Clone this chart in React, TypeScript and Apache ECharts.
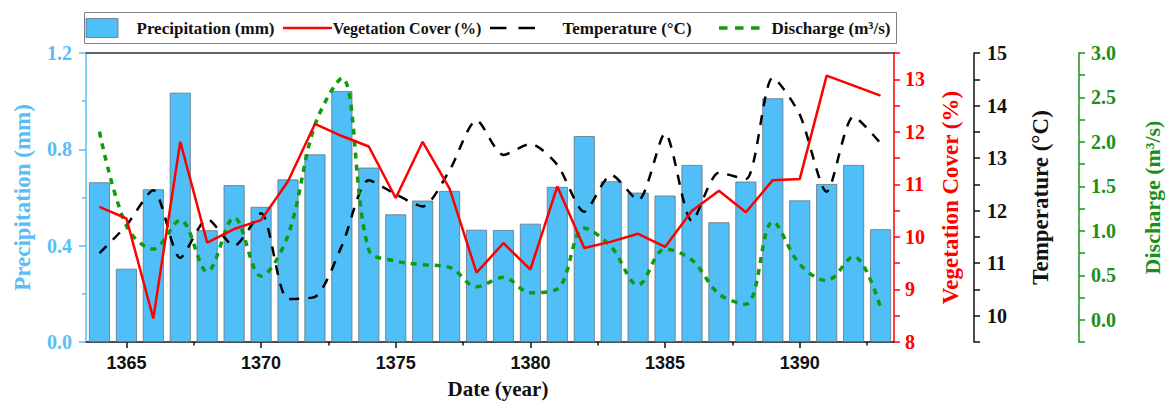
import React, { useEffect, useRef } from "react";
import * as echarts from "echarts";

const years = [1364, 1365, 1366, 1367, 1368, 1369, 1370, 1371, 1372, 1373, 1374, 1375, 1376, 1377, 1378, 1379, 1380, 1381, 1382, 1383, 1384, 1385, 1386, 1387, 1388, 1389, 1390, 1391, 1392, 1393];
const precipitation = [0.663, 0.304, 0.634, 1.035, 0.464, 0.651, 0.561, 0.675, 0.779, 1.042, 0.724, 0.53, 0.587, 0.627, 0.466, 0.465, 0.491, 0.644, 0.855, 0.667, 0.62, 0.608, 0.735, 0.497, 0.666, 1.012, 0.588, 0.656, 0.735, 0.468];
const vegetation = [10.57, 10.35, 8.45, 11.81, 9.89, 10.15, 10.32, 11.06, 12.15, 11.92, 11.72, 10.74, 11.81, 10.92, 9.32, 9.88, 9.38, 10.96, 9.79, 9.91, 10.06, 9.81, 10.5, 10.88, 10.47, 11.08, 11.1, 13.07, 12.88, 12.69];
const temperature = [11.19, 11.72, 12.39, 11.1, 11.84, 11.33, 11.95, 10.32, 10.36, 11.33, 12.58, 12.31, 12.08, 12.77, 13.72, 13.06, 13.27, 12.87, 11.98, 12.68, 12.2, 13.47, 11.8, 12.72, 12.6, 14.53, 13.83, 12.36, 13.79, 13.28];
const discharge = [2.115, 1.056, 0.795, 1.122, 0.541, 1.15, 0.49, 0.95, 2.19, 2.716, 0.785, 0.66, 0.62, 0.59, 0.372, 0.477, 0.305, 0.345, 1.03, 0.82, 0.39, 0.795, 0.67, 0.29, 0.175, 1.103, 0.625, 0.44, 0.713, 0.138];
const yearLabels = [1365, 1370, 1375, 1380, 1385, 1390];
const yearMinorTicks = [1367.5, 1372.5, 1377.5, 1382.5, 1387.5, 1392.5];

const SERIF = "'Liberation Serif', 'Times New Roman', serif";
const SANS = "'Liberation Sans', Arial, sans-serif";
const BLUE_AXIS = "#58BEF5";
const BAR_BLUE = "#50BFF8";
const BAR_EDGE = "#66727c";
const RED = "#FF0000";
const GREEN_AXIS = "#1A901A";
const GREEN_LINE = "#0E9B0E";

const NAMES = {
  p: "Precipitation (mm)",
  v: "Vegetation Cover (%)",
  t: "Temperature (°C)",
  d: "Discharge (m³/s)",
};

function isMult(v: number, step: number) {
  const r = v / step;
  return Math.abs(r - Math.round(r)) < 1e-6;
}

export default function App() {
  const ref = useRef<HTMLDivElement>(null);
  useEffect(() => {
    if (!ref.current) return;
    const chart = echarts.init(ref.current, null, { renderer: "svg" });
    const legendFont = (size: number) => ({
      font: `bold ${size}px ${SERIF}`,
      fill: "#111",
      textAlign: "center",
      textVerticalAlign: "middle",
    });
    const yLabel = (color: string) => ({
      color,
      fontFamily: SERIF,
      fontWeight: "bold" as const,
      fontSize: 20,
    });
    const yName = (color: string, size = 23) => ({
      color,
      fontFamily: SERIF,
      fontWeight: "bold" as const,
      fontSize: size,
    });
    const LY = 28;
    const option: any = {
      animation: false,
      backgroundColor: "#fff",
      grid: { left: 86, right: 272, top: 53, bottom: 59, containLabel: false, outerBoundsMode: "none" },
      graphic: [
        {
          type: "rect",
          shape: { x: 84.5, y: 12.5, width: 812, height: 31 },
          style: { fill: "#fff", stroke: "#808080", lineWidth: 1 },
        },
        {
          type: "rect",
          shape: { x: 86, y: 18.5, width: 32, height: 19 },
          style: { fill: BAR_BLUE, stroke: BAR_EDGE, lineWidth: 0.8 },
        },
        { type: "text", x: 205.5, y: LY, style: { text: NAMES.p, ...legendFont(17) } },
        {
          type: "line",
          shape: { x1: 283, y1: LY, x2: 332, y2: LY },
          style: { stroke: RED, lineWidth: 2.5 },
        },
        { type: "text", x: 407, y: LY, style: { text: NAMES.v, ...legendFont(16) } },
        {
          type: "line",
          shape: { x1: 490, y1: LY, x2: 535, y2: LY },
          style: { stroke: "#000", lineWidth: 2.5, lineDash: [16.5, 12] },
        },
        { type: "text", x: 627, y: LY, style: { text: NAMES.t, ...legendFont(17) } },
        {
          type: "line",
          shape: { x1: 719, y1: LY, x2: 760, y2: LY },
          style: { stroke: GREEN_LINE, lineWidth: 3.5, lineDash: [8.5, 7.5] },
        },
        { type: "text", x: 831, y: LY, style: { text: NAMES.d, ...legendFont(17) } },
      ],
      xAxis: [
        {
          type: "value",
          min: 1363.5,
          max: 1393.5,
          position: "bottom",
          splitLine: { show: false },
          axisLine: { show: true, onZero: false, lineStyle: { color: "#111", width: 1.5 } },
          axisTick: { show: true, customValues: yearLabels, length: 6, lineStyle: { color: "#111", width: 1.5 } },
          axisLabel: {
            customValues: yearLabels,
            formatter: (v: number) => String(Math.round(v)),
            color: "#111",
            fontFamily: SANS,
            fontWeight: "bold",
            fontSize: 18,
            margin: 12,
          },
          name: "Date (year)",
          nameLocation: "middle",
          nameGap: 36,
          nameTextStyle: { color: "#111", fontFamily: SERIF, fontWeight: "bold", fontSize: 21, padding: [0, 0, 0, 16] },
        },
        {
          type: "value",
          min: 1363.5,
          max: 1393.5,
          position: "bottom",
          splitLine: { show: false },
          axisLine: { show: false },
          axisTick: { show: true, customValues: yearMinorTicks, length: 3.5, lineStyle: { color: "#111", width: 1.5 } },
          axisLabel: { show: false },
        },
        {
          type: "value",
          min: 1363.5,
          max: 1393.5,
          position: "top",
          splitLine: { show: false },
          axisLine: { show: true, onZero: false, lineStyle: { color: "#333", width: 1.5 } },
          axisTick: { show: false },
          axisLabel: { show: false },
        },
      ],
      yAxis: [
        {
          type: "value",
          position: "left",
          min: 0,
          max: 1.2,
          interval: 0.4,
          splitLine: { show: false },
          axisLine: { show: true, lineStyle: { color: BLUE_AXIS, width: 1.5 } },
          axisTick: { show: true, length: 7, lineStyle: { color: BLUE_AXIS, width: 1.5 } },
          minorTick: { show: true, splitNumber: 2, length: 4, lineStyle: { color: BLUE_AXIS, width: 1.5 } },
          axisLabel: { ...yLabel(BLUE_AXIS), margin: 14, formatter: (v: number) => v.toFixed(1) },
          name: NAMES.p,
          nameLocation: "middle",
          nameRotate: 90,
          nameGap: 52,
          nameTextStyle: yName(BLUE_AXIS),
        },
        {
          type: "value",
          position: "right",
          offset: 0,
          min: 8,
          max: 13.5,
          interval: 0.5,
          splitLine: { show: false },
          axisLine: { show: true, lineStyle: { color: RED, width: 1.5 } },
          axisTick: { show: true, length: 6, lineStyle: { color: RED, width: 1.5 } },
          axisLabel: {
            ...yLabel(RED),
            margin: 11,
            formatter: (v: number) => (isMult(v, 1) ? String(Math.round(v)) : ""),
          },
          name: NAMES.v,
          nameLocation: "middle",
          nameRotate: 90,
          nameGap: 45,
          nameTextStyle: yName(RED),
        },
        {
          type: "value",
          position: "right",
          offset: 80,
          min: 9.5,
          max: 15,
          interval: 0.5,
          splitLine: { show: false },
          axisLine: { show: true, lineStyle: { color: "#111", width: 1.5 } },
          axisTick: { show: true, length: 6, lineStyle: { color: "#111", width: 1.5 } },
          axisLabel: {
            ...yLabel("#111"),
            margin: 13,
            formatter: (v: number) => (isMult(v, 1) ? String(Math.round(v)) : ""),
          },
          name: NAMES.t,
          nameLocation: "middle",
          nameRotate: 90,
          nameGap: 55,
          nameTextStyle: yName("#111"),
        },
        {
          type: "value",
          position: "right",
          offset: 185,
          min: -0.25,
          max: 3,
          interval: 0.25,
          splitLine: { show: false },
          axisLine: { show: true, lineStyle: { color: GREEN_AXIS, width: 1.5 } },
          axisTick: { show: true, length: 6, lineStyle: { color: GREEN_AXIS, width: 1.5 } },
          axisLabel: {
            ...yLabel(GREEN_AXIS),
            margin: 12,
            formatter: (v: number) => (v > -1e-6 && isMult(v, 0.5) ? v.toFixed(1) : ""),
          },
          name: NAMES.d,
          nameLocation: "middle",
          nameRotate: 90,
          nameGap: 62,
          nameTextStyle: yName(GREEN_AXIS, 22),
        },
      ],
      series: [
        {
          name: NAMES.p,
          type: "bar",
          xAxisIndex: 0,
          yAxisIndex: 0,
          barWidth: 21,
          data: years.map((y, i) => [y, precipitation[i]]),
          itemStyle: { color: BAR_BLUE, borderColor: BAR_EDGE, borderWidth: 0.8 },
        },
        {
          name: NAMES.t,
          type: "line",
          xAxisIndex: 0,
          yAxisIndex: 2,
          smooth: 0.25,
          symbol: "none",
          data: years.map((y, i) => [y, temperature[i]]),
          lineStyle: { color: "#000", width: 2.5, type: [10, 9] },
        },
        {
          name: NAMES.d,
          type: "line",
          xAxisIndex: 0,
          yAxisIndex: 3,
          smooth: 0.35,
          symbol: "none",
          data: years.map((y, i) => [y, discharge[i]]),
          lineStyle: { color: GREEN_LINE, width: 3.5, type: [6, 6] },
        },
        {
          name: NAMES.v,
          type: "line",
          xAxisIndex: 0,
          yAxisIndex: 1,
          symbol: "none",
          data: years.map((y, i) => [y, vegetation[i]]),
          lineStyle: { color: RED, width: 2.5 },
        },
      ],
    };
    chart.setOption(option);
    return () => chart.dispose();
  }, []);
  return (
    <div
      ref={ref}
      style={{ position: "fixed", left: 0, top: 0, width: 1166, height: 401, background: "#fff" }}
    />
  );
}
